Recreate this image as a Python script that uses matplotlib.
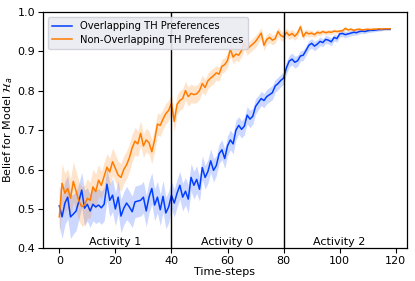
import matplotlib
matplotlib.use("Agg")
import numpy as np
import matplotlib.pyplot as plt

# Time-steps 0..118
overlap_mean = [
    0.508, 0.480, 0.515, 0.530, 0.480, 0.487, 0.495, 0.520, 0.548, 0.502,
    0.512, 0.495, 0.512, 0.505, 0.510, 0.503, 0.512, 0.563, 0.522, 0.535,
    0.500, 0.530, 0.482, 0.502, 0.515, 0.505, 0.493, 0.518, 0.520, 0.522,
    0.530, 0.495, 0.530, 0.552, 0.510, 0.530, 0.498, 0.532, 0.490, 0.505,
    0.535, 0.515, 0.540, 0.560, 0.530, 0.545, 0.525, 0.580, 0.560, 0.575,
    0.550, 0.605, 0.580, 0.595, 0.622, 0.598, 0.610, 0.640, 0.650, 0.628,
    0.660, 0.675, 0.665, 0.700, 0.712, 0.702, 0.710, 0.738, 0.728, 0.735,
    0.760, 0.770, 0.780, 0.775, 0.785, 0.790, 0.795, 0.812, 0.818, 0.826,
    0.832, 0.858, 0.875, 0.880, 0.872, 0.876, 0.888, 0.890, 0.902, 0.915,
    0.920, 0.913, 0.918, 0.925, 0.922, 0.930, 0.928, 0.924, 0.935, 0.932,
    0.944, 0.945, 0.942, 0.944, 0.946, 0.948, 0.947, 0.950, 0.951, 0.950,
    0.952, 0.953, 0.953, 0.954, 0.955, 0.955, 0.956, 0.956, 0.956,
]
overlap_err = [
    0.050, 0.055, 0.055, 0.055, 0.055, 0.050, 0.050, 0.045, 0.045, 0.045,
    0.042, 0.042, 0.042, 0.042, 0.042, 0.042, 0.042, 0.042, 0.042, 0.042,
    0.042, 0.042, 0.042, 0.042, 0.042, 0.040, 0.040, 0.040, 0.040, 0.040,
    0.040, 0.040, 0.040, 0.040, 0.040, 0.040, 0.040, 0.040, 0.040, 0.040,
    0.035, 0.035, 0.035, 0.035, 0.035, 0.035, 0.035, 0.035, 0.035, 0.035,
    0.030, 0.030, 0.030, 0.030, 0.030, 0.030, 0.025, 0.025, 0.025, 0.025,
    0.025, 0.025, 0.025, 0.025, 0.022, 0.022, 0.022, 0.022, 0.022, 0.020,
    0.020, 0.018, 0.018, 0.018, 0.018, 0.018, 0.018, 0.016, 0.016, 0.016,
    0.016, 0.016, 0.015, 0.015, 0.015, 0.014, 0.013, 0.013, 0.012, 0.012,
    0.012, 0.012, 0.011, 0.011, 0.010, 0.010, 0.010, 0.010, 0.009, 0.009,
    0.008, 0.008, 0.008, 0.007, 0.007, 0.007, 0.006, 0.006, 0.006, 0.005,
    0.005, 0.005, 0.004, 0.004, 0.004, 0.003, 0.003, 0.003, 0.003,
]
nonoverlap_mean = [
    0.480, 0.565, 0.540, 0.552, 0.527, 0.570, 0.545, 0.520, 0.506, 0.510,
    0.527, 0.522, 0.556, 0.544, 0.573, 0.560, 0.583, 0.606, 0.594, 0.620,
    0.603, 0.586, 0.580, 0.600, 0.612, 0.630, 0.655, 0.672, 0.665, 0.692,
    0.660, 0.675, 0.668, 0.645, 0.675, 0.715, 0.712, 0.728, 0.742, 0.750,
    0.768, 0.722, 0.765, 0.775, 0.780, 0.800, 0.785, 0.793, 0.790, 0.792,
    0.800, 0.818, 0.808, 0.825, 0.832, 0.838, 0.845, 0.842, 0.862, 0.866,
    0.877, 0.905, 0.885, 0.893, 0.890, 0.902, 0.920, 0.905, 0.912, 0.918,
    0.925, 0.935, 0.946, 0.915, 0.930, 0.935, 0.928, 0.932, 0.950, 0.940,
    0.936, 0.948, 0.940, 0.945, 0.938, 0.946, 0.962, 0.937, 0.948, 0.944,
    0.946, 0.942, 0.948, 0.946, 0.950, 0.947, 0.949, 0.948, 0.951, 0.950,
    0.951, 0.952, 0.958, 0.954, 0.956, 0.953, 0.955, 0.956, 0.954, 0.955,
    0.956, 0.955, 0.956, 0.956, 0.957, 0.956, 0.957, 0.957, 0.957,
]
nonoverlap_err = [
    0.050, 0.050, 0.050, 0.050, 0.050, 0.050, 0.050, 0.050, 0.050, 0.050,
    0.050, 0.045, 0.045, 0.045, 0.040, 0.035, 0.035, 0.035, 0.035, 0.035,
    0.035, 0.035, 0.035, 0.035, 0.035, 0.035, 0.035, 0.035, 0.032, 0.032,
    0.030, 0.030, 0.030, 0.030, 0.030, 0.028, 0.028, 0.026, 0.026, 0.026,
    0.026, 0.025, 0.025, 0.025, 0.025, 0.024, 0.024, 0.024, 0.022, 0.022,
    0.022, 0.022, 0.020, 0.020, 0.020, 0.020, 0.018, 0.018, 0.018, 0.018,
    0.018, 0.018, 0.017, 0.017, 0.016, 0.016, 0.016, 0.015, 0.015, 0.015,
    0.015, 0.014, 0.014, 0.014, 0.013, 0.013, 0.012, 0.012, 0.012, 0.012,
    0.012, 0.011, 0.011, 0.011, 0.010, 0.010, 0.010, 0.009, 0.009, 0.008,
    0.008, 0.007, 0.007, 0.007, 0.006, 0.006, 0.006, 0.006, 0.005, 0.005,
    0.005, 0.005, 0.005, 0.004, 0.004, 0.004, 0.004, 0.004, 0.003, 0.003,
    0.003, 0.003, 0.003, 0.003, 0.003, 0.003, 0.003, 0.003, 0.003,
]
series_labels = ["Overlapping TH Preferences", "Non-Overlapping TH Preferences"]
activity_labels = ["Activity 1", "Activity 0", "Activity 2"]
activity_centers = [20, 60, 100]
boundaries = [40, 80]

BLUE = "#023eff"
ORANGE = "#ff7c00"

plt.rcParams["font.family"] = "DejaVu Sans"
plt.rcParams["font.size"] = 8

fig = plt.figure(figsize=(4.15, 2.81), dpi=100)
ax = fig.add_axes([0.103, 0.116, 0.877, 0.842])

t = np.arange(len(overlap_mean))
for mean, err, c, lab in [(overlap_mean, overlap_err, BLUE, series_labels[0]),
                          (nonoverlap_mean, nonoverlap_err, ORANGE, series_labels[1])]:
    m = np.array(mean); e = np.array(err)
    ax.fill_between(t, m - e, m + e, color=c, alpha=0.2, lw=0)
    ax.plot(t, m, color=c, lw=1.1, label=lab)

for b in boundaries:
    ax.axvline(b, color="black", lw=1.0)
for x, lab in zip(activity_centers, activity_labels):
    ax.text(x, 0.404, lab, ha="center", va="bottom", fontsize=8)

ax.set_ylim(0.4, 1.0)
ax.set_xlim(-5.9, 123.9)
ax.set_xticks([0, 20, 40, 60, 80, 100, 120])
ax.set_yticks([0.4, 0.5, 0.6, 0.7, 0.8, 0.9, 1.0])
ax.set_xlabel("Time-steps", labelpad=1)
ax.set_ylabel(r"Belief for Model $\mathcal{H}_a$")
ax.yaxis.set_label_coords(-0.075, 0.5)
ax.tick_params(direction="out", length=3.5, width=0.8, pad=2)
for s in ax.spines.values():
    s.set_linewidth(0.9)

leg = ax.legend(loc="upper left", fontsize=7.2, frameon=True, fancybox=True,
                facecolor="#eaeaf2", edgecolor="#d0d0d8", framealpha=0.9,
                borderpad=0.45, handlelength=2.0, labelspacing=0.35)

fig.savefig("out.png", dpi=100)
